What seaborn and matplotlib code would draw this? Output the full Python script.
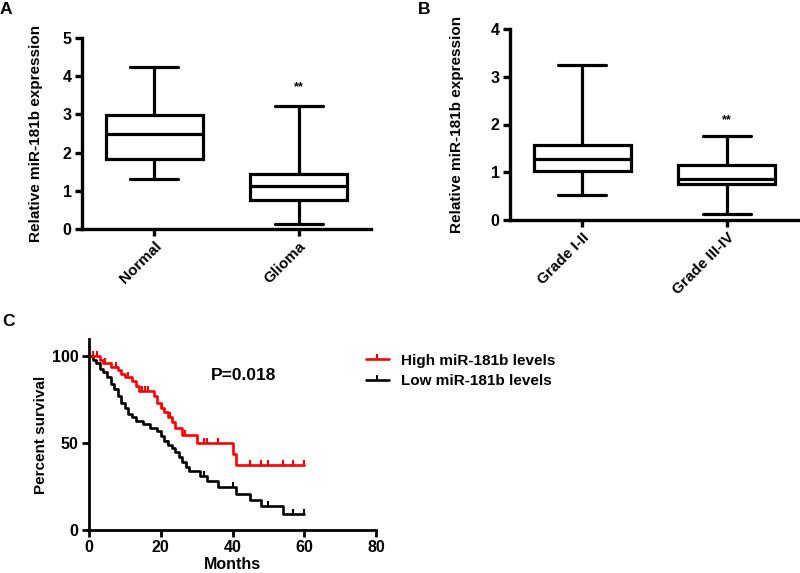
import numpy as np
import pandas as pd
import matplotlib
matplotlib.use("Agg")
import matplotlib.pyplot as plt
from matplotlib.lines import Line2D
import seaborn as sns

# ---------------- data ----------------
# Panel A: five-number summaries (min, Q1, median, Q3, max)
a_groups = ["Normal", "Glioma"]
a_normal = [1.31, 1.84, 2.49, 2.99, 4.24]
a_glioma = [0.13, 0.76, 1.13, 1.45, 3.23]
a_sig_y = 3.55

# Panel B
b_groups = ["Grade I-II", "Grade III-IV"]
b_low_grade = [0.52, 1.02, 1.27, 1.58, 3.25]
b_high_grade = [0.13, 0.76, 0.86, 1.15, 1.75]
b_sig_y = 1.97

# Panel C: Kaplan-Meier steps (time in months, percent survival)
high_t = [0, 3, 4, 6, 8, 9, 10, 12, 13, 14, 18, 19, 20, 21, 22, 23, 24, 26, 30, 40, 41, 60]
high_s = [100, 98, 96, 94, 92, 90, 88, 86, 83, 80, 77, 73, 70, 68, 65, 62, 59, 55, 50, 44, 37.5, 37.5]
high_cens = [1.2, 2.1, 4.5, 7.5, 11, 14.7, 15.6, 16.5, 20.3, 22.6, 26.8, 32, 33, 36, 45, 48, 50, 54, 57, 60]

low_t = [0, 1, 2, 3, 4, 5, 6, 7, 8, 9, 10, 11, 12, 13, 15, 17, 19, 20, 21, 22, 23, 24, 25, 26, 27, 28,
         31, 33, 36, 41, 45, 48, 54, 60]
low_s = [100, 98, 96, 93, 91, 88, 84, 81, 77, 73, 70, 67, 65, 63, 61, 59, 57, 54, 51, 49, 47, 45, 42,
         39, 36, 34, 31, 28, 25, 21, 17, 14, 9, 9]
low_cens = [22, 32, 40, 50, 57, 60]

legend_labels = ["High miR-181b levels", "Low miR-181b levels"]
p_text = "P=0.018"

# ---------------- style ----------------
sns.set_theme(style="ticks")
plt.rcParams["font.family"] = ["Liberation Sans", "DejaVu Sans"]
plt.rcParams["font.weight"] = "bold"
plt.rcParams["axes.labelweight"] = "bold"
for k in ["text.color", "axes.labelcolor", "xtick.color", "ytick.color", "axes.edgecolor"]:
    plt.rcParams[k] = "black"

W, H = 800, 573
fig = plt.figure(figsize=(W / 100, H / 100), dpi=100)
FS = 11.5


def ax_px(l, r, b, t):
    return fig.add_axes([l / W, 1 - b / H, (r - l) / W, (b - t) / H])


def style_axes(ax, lw=2.2):
    for s in ["top", "right"]:
        ax.spines[s].set_visible(False)
    for s in ["left", "bottom"]:
        ax.spines[s].set_linewidth(lw)
        ax.spines[s].set_color("black")
    ax.tick_params(axis="both", direction="out", length=5, width=lw, colors="black",
                   labelsize=FS, pad=2.5)
    for lab in ax.get_xticklabels() + ax.get_yticklabels():
        lab.set_fontweight("bold")


def box_panel(ax, groups, vals, sig_y, ymax, label_x):
    df = pd.DataFrame({
        "group": np.repeat(groups, 5),
        "value": np.concatenate([vals[0], vals[1]]),
    })
    sns.boxplot(data=df, x="group", y="value", order=groups, whis=(0, 100), width=0.67,
                color="white", linecolor="black", linewidth=2.3, showfliers=False, ax=ax)
    ax.set_xlim(-0.5, 1.5)
    ax.set_ylim(0, ymax)
    ax.set_yticks(range(0, ymax + 1))
    ax.set_xlabel("")
    ax.set_ylabel("Relative miR-181b expression", fontsize=11, fontweight="bold")
    ax.yaxis.set_label_coords(label_x, 0.5)
    style_axes(ax, 2.4)
    ax.set_xticks(range(len(groups)))
    ax.set_xticklabels(groups, rotation=45, ha="right", rotation_mode="anchor",
                       fontsize=11, fontweight="bold")
    ax.text(1, sig_y, "**", ha="center", va="bottom", fontsize=9, fontweight="bold")


axA = ax_px(82, 371, 229, 38)
box_panel(axA, a_groups, [a_normal, a_glioma], a_sig_y, 5, -0.135)

axB = ax_px(510, 799, 220, 29)
box_panel(axB, b_groups, [b_low_grade, b_high_grade], b_sig_y, 4, -0.16)

# ---------------- panel C ----------------
axC = ax_px(89, 376, 530, 339)


def km_frame(t, s, name):
    return pd.DataFrame({"Months": t, "Percent survival": s, "group": name})


def cens_frame(t, s, ct, name):
    t = np.asarray(t)
    s = np.asarray(s)
    idx = np.searchsorted(t, ct, side="right") - 1
    return pd.DataFrame({"Months": ct, "Percent survival": s[idx], "group": name})


colors = {legend_labels[0]: "#ff0000", legend_labels[1]: "black"}
km = pd.concat([km_frame(high_t, high_s, legend_labels[0]),
                km_frame(low_t, low_s, legend_labels[1])])
cens = pd.concat([cens_frame(high_t, high_s, high_cens, legend_labels[0]),
                  cens_frame(low_t, low_s, low_cens, legend_labels[1])])

for name in legend_labels[::-1]:
    sns.lineplot(data=km[km.group == name], x="Months", y="Percent survival",
                 drawstyle="steps-post", color=colors[name], linewidth=1.9,
                 estimator=None, sort=False, ax=axC, legend=False)
    sub = cens[cens.group == name]
    sns.scatterplot(data=sub, x="Months", y="Percent survival", marker=2, s=13,
                    color=colors[name], linewidth=1.5, ax=axC, legend=False)

axC.set_xlim(0, 80)
axC.set_ylim(0, 110)
axC.set_xticks([0, 20, 40, 60, 80])
axC.set_yticks([0, 50, 100])
axC.set_xlabel("Months", fontsize=11.5, fontweight="bold")
axC.set_ylabel("Percent survival", fontsize=11, fontweight="bold")
axC.yaxis.set_label_coords(-0.143, 0.5)
axC.xaxis.set_label_coords(0.5, -0.14)
axC.xaxis.label.set_va("top")
style_axes(axC, 2.0)
axC.text(0.54, 0.81, p_text, transform=axC.transAxes, ha="center", va="center",
         fontsize=12.5, fontweight="bold")

handles = [Line2D([], [], color=colors[n], linewidth=1.9, marker=2, markersize=3.5,
                  markeredgewidth=1.5) for n in legend_labels]
fig.legend(handles, legend_labels, loc="upper left", bbox_to_anchor=(352 / W, 1 - 340 / H),
           frameon=False, numpoints=1, handlelength=1.5, handletextpad=0.8,
           labelspacing=0.4, prop={"size": 11, "weight": "bold"})

# panel letters
fig.text(0 / W, 1 - 2 / H, "A", ha="left", va="top", fontsize=12.5, fontweight="bold")
fig.text(418 / W, 1 - 2 / H, "B", ha="left", va="top", fontsize=12.5, fontweight="bold")
fig.text(2 / W, 1 - 314 / H, "C", ha="left", va="top", fontsize=12.5, fontweight="bold")

fig.savefig("out.png", dpi=100)
